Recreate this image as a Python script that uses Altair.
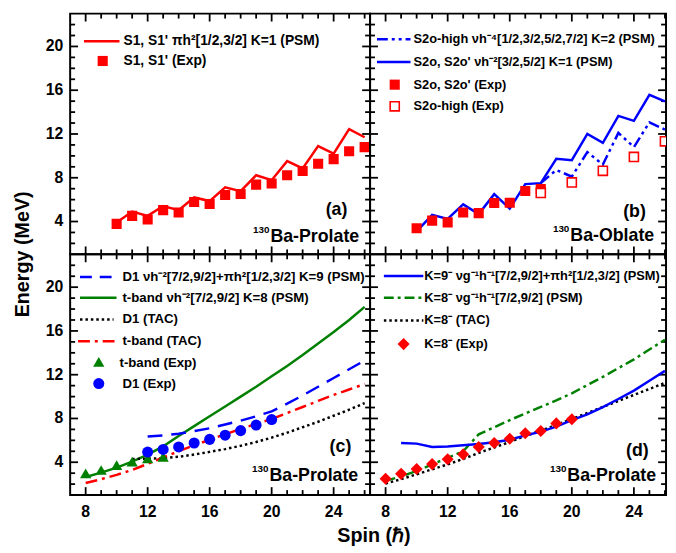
import altair as alt
import pandas as pd

# ---------------- data ----------------
# (a) 130Ba prolate, S1/S1'
spin_a = list(range(10, 27))
a_psm = [3.9, 4.91, 4.52, 5.42, 5.04, 6.2, 5.87, 7.13, 6.77, 8.23, 7.78, 9.52, 8.86, 10.89, 10.2, 12.44, 11.7]
a_exp = [3.78, 4.52, 4.19, 5.04, 4.82, 5.78, 5.6, 6.43, 6.52, 7.37, 7.48, 8.23, 8.62, 9.28, 9.70, 10.42, 10.80]

# (b) 130Ba oblate
spin_b = list(range(10, 27))
b_psm = [3.1, 4.61, 4.23, 5.57, 4.68, 6.5, 5.18, 7.42, 7.51, 9.73, 9.61, 12.0, 11.19, 13.65, 13.2, 15.58, 14.99]
spin_b_high = list(range(18, 27))
b_high_psm = [7.51, 8.71, 8.1, 10.35, 9.2, 12.1, 10.8, 13.07, 12.4]
spin_b_exp = list(range(10, 19))
b_exp = [3.39, 4.08, 3.92, 4.82, 4.77, 5.69, 5.72, 6.79, 6.97]
spin_b_high_exp = [18, 20, 22, 24, 26]
b_high_exp = [6.61, 7.57, 8.63, 9.9, 11.33]

# (c) 130Ba prolate, D1 and t-band
spin_c_d1_psm = list(range(12, 27))
c_d1_psm = [6.35, 6.45, 6.6, 6.85, 7.1, 7.45, 7.8, 8.2, 8.65, 9.35, 10.1, 10.9, 11.7, 12.5, 13.3]
spin_c_t_psm = list(range(8, 27))
c_t_psm = [2.65, 3.05, 3.5, 4.05, 4.7, 5.45, 6.4, 7.3, 8.2, 9.1, 10.0, 10.9, 11.85, 12.8, 13.8, 14.85, 15.9, 17.0, 18.2]
spin_c_d1_tac = list(range(11, 27))
c_d1_tac = [4.3, 4.32, 4.38, 4.5, 4.7, 4.95, 5.2, 5.5, 5.85, 6.25, 6.7, 7.2, 7.7, 8.25, 8.8, 9.4]
spin_c_t_tac = list(range(8, 27))
c_t_tac = [2.1, 2.45, 2.85, 3.3, 3.85, 4.45, 5.0, 5.55, 6.05, 6.55, 7.05, 7.5, 7.95, 8.5, 9.05, 9.6, 10.15, 10.65, 11.15]
spin_c_t_exp = list(range(8, 14))
c_t_exp = [2.99, 3.29, 3.74, 4.06, 4.35, 4.5]
spin_c_d1_exp = list(range(12, 21))
c_d1_exp = [4.93, 5.17, 5.4, 5.76, 6.09, 6.47, 6.89, 7.4, 7.9]

# (d) 130Ba prolate, K=8- band
spin_d_k9_psm = list(range(9, 27))
d_k9_psm = [5.76, 5.7, 5.4, 5.43, 5.55, 5.67, 5.82, 6.06, 6.45, 6.8, 7.25, 7.84, 8.38, 9.04, 9.78, 10.55, 11.45, 12.35]
spin_d_k8_psm = list(range(8, 27))
d_k8_psm = [2.3, 2.7, 3.2, 3.8, 4.4, 5.0, 6.55, 7.2, 7.85, 8.45, 9.05, 9.65, 10.3, 11.05, 11.8, 12.6, 13.4, 14.3, 15.2]
spin_d_k8_tac = list(range(8, 27))
d_k8_tac = [2.05, 2.45, 2.9, 3.35, 3.8, 4.3, 4.85, 5.35, 5.85, 6.4, 6.9, 7.4, 7.95, 8.5, 9.05, 9.6, 10.15, 10.7, 11.25]
spin_d_exp = list(range(8, 21))
d_exp = [2.49, 2.94, 3.38, 3.83, 4.28, 4.72, 5.4, 5.76, 6.15, 6.65, 6.86, 7.55, 7.93]

# axis ticks
x_major = [8, 12, 16, 20, 24]
x_minor = [9, 10, 11, 13, 14, 15, 17, 18, 19, 21, 22, 23, 25, 26]
y_major = [4, 8, 12, 16, 20]
y_minor = [2, 3, 5, 6, 7, 9, 10, 11, 13, 14, 15, 17, 18, 19, 21, 22]
x_title = "Spin (ℏ)"
y_title = "Energy (MeV)"

# legend texts
leg_a = ["S1, S1' πh²[1/2,3/2] K=1 (PSM)", "S1, S1' (Exp)"]
leg_b = ["S2o-high νh⁻⁴[1/2,3/2,5/2,7/2] K=2 (PSM)", "S2o, S2o' νh⁻²[3/2,5/2] K=1 (PSM)",
         "S2o, S2o' (Exp)", "S2o-high (Exp)"]
leg_c = ["D1 νh⁻²[7/2,9/2]+πh²[1/2,3/2] K=9 (PSM)", "t-band νh⁻²[7/2,9/2] K=8 (PSM)",
         "D1 (TAC)", "t-band (TAC)", "t-band (Exp)", "D1 (Exp)"]
leg_d = ["K=9⁻ νg⁻¹h⁻¹[7/2,9/2]+πh²[1/2,3/2] (PSM)", "K=8⁻ νg⁻¹h⁻¹[7/2,9/2] (PSM)",
         "K=8⁻ (TAC)", "K=8⁻ (Exp)"]

# ---------------- styling ----------------
FONT = "Liberation Sans"
RED, BLUE, GREEN, BLACK = "#FF0000", "#0000FF", "#008000", "#000000"
W_L, W_R, H = 304, 300, 244
XD_L, XD_R, YD = [7, 26.35], [7, 26.07], [1, 23]
FS_A, FS_B, FS_C, FS_D = 14, 13, 13.4, 13
DUMMY = pd.DataFrame({"d": [0]})


def xsc(dom):
    return alt.Scale(domain=dom, nice=False, zero=False)


YSC = alt.Scale(domain=YD, nice=False, zero=False)


def line(spins, vals, color, dom, dash=None, width=2.5):
    kw = dict(color=color, strokeWidth=width, clip=True)
    if dash:
        kw["strokeDash"] = dash
    df = pd.DataFrame({"s": spins, "e": vals})
    return alt.Chart(df).mark_line(**kw).encode(
        x=alt.X("s:Q", scale=xsc(dom), axis=None),
        y=alt.Y("e:Q", scale=YSC, axis=None))


def pts(spins, vals, color, dom, shape, size, filled=True):
    if filled:
        mk = alt.Chart(pd.DataFrame({"s": spins, "e": vals})).mark_point(
            shape=shape, size=size, filled=True, color=color, opacity=1, clip=True)
    else:
        mk = alt.Chart(pd.DataFrame({"s": spins, "e": vals})).mark_point(
            shape=shape, size=size, filled=False, color=color, fill="white",
            fillOpacity=1, strokeWidth=1.6, opacity=1, clip=True)
    return mk.encode(x=alt.X("s:Q", scale=xsc(dom), axis=None),
                     y=alt.Y("e:Q", scale=YSC, axis=None))


def ticks(dom, W, xlab=False, ylab=False):
    layers = []
    tk = dict(color=BLACK, strokeWidth=1.8)
    xmaj = pd.DataFrame({"v": x_major})
    xmin = pd.DataFrame({"v": x_minor})
    ymaj = pd.DataFrame({"v": y_major})
    ymin = pd.DataFrame({"v": y_minor})
    for df, ln in ((xmaj, 8), (xmin, 5)):
        layers.append(alt.Chart(df).mark_rule(**tk).encode(
            x=alt.X("v:Q", scale=xsc(dom), axis=None), y=alt.value(H), y2=alt.value(H - ln)))
        layers.append(alt.Chart(df).mark_rule(**tk).encode(
            x=alt.X("v:Q", scale=xsc(dom), axis=None), y=alt.value(0), y2=alt.value(ln)))
    for df, ln in ((ymaj, 8), (ymin, 5)):
        layers.append(alt.Chart(df).mark_rule(**tk).encode(
            y=alt.Y("v:Q", scale=YSC, axis=None), x=alt.value(0), x2=alt.value(ln)))
        layers.append(alt.Chart(df).mark_rule(**tk).encode(
            y=alt.Y("v:Q", scale=YSC, axis=None), x=alt.value(W), x2=alt.value(W - ln)))
    lab = dict(font=FONT, fontSize=16, fontWeight="bold", color=BLACK, baseline="middle")
    if xlab:
        layers.append(alt.Chart(xmaj).mark_text(align="center", **lab).encode(
            x=alt.X("v:Q", scale=xsc(dom), axis=None), y=alt.value(H + 17),
            text=alt.Text("v:Q", format="d")))
    if ylab:
        layers.append(alt.Chart(ymaj).mark_text(align="right", **lab).encode(
            y=alt.Y("v:Q", scale=YSC, axis=None), x=alt.value(-7),
            text=alt.Text("v:Q", format="d")))
    return layers


def leg_line(x1, x2, y, color, dash=None, width=2.5):
    kw = dict(color=color, strokeWidth=width)
    if dash:
        kw["strokeDash"] = dash
    return alt.Chart(DUMMY).mark_rule(**kw).encode(
        x=alt.value(x1), x2=alt.value(x2), y=alt.value(y))


def leg_sym(x, y, color, shape, size, filled=True):
    if filled:
        mk = alt.Chart(DUMMY).mark_point(shape=shape, size=size, filled=True, color=color, opacity=1)
    else:
        mk = alt.Chart(DUMMY).mark_point(shape=shape, size=size, filled=False, color=color,
                                          fill="white", fillOpacity=1, strokeWidth=1.6, opacity=1)
    return mk.encode(x=alt.value(x), y=alt.value(y))


def txt(x, y, s, size, align="left", angle=0):
    return alt.Chart(DUMMY).mark_text(font=FONT, fontSize=size, fontWeight="bold", color=BLACK,
                                      align=align, baseline="middle", angle=angle).encode(
        x=alt.value(x), y=alt.value(y), text=alt.value(s))


def tag(label, nucleus, lx, ly, nx, ny):
    return [txt(lx, ly, label, 18, "center"),
            txt(nx - 1, ny - 7, "130", 10, "right"),
            txt(nx, ny, nucleus, 18)]


# ---------------- panel (a) ----------------
pa_layers = ticks(XD_L, W_L, xlab=False, ylab=True) + [
    txt(-48, H, y_title, 20, "center", 270),
    line(spin_a, a_psm, RED, XD_L),
    pts(spin_a, a_exp, RED, XD_L, "square", 105),
    leg_line(14, 50, 28, RED), txt(54, 28, leg_a[0], FS_A),
    leg_sym(33, 48, RED, "square", 105), txt(54, 48, leg_a[1], FS_A),
] + tag("(a)", "Ba-Prolate", 270, 199, 203, 226)
pa = alt.layer(*pa_layers).properties(width=W_L, height=H)

# ---------------- panel (b) ----------------
pb_layers = ticks(XD_R, W_R) + [
    line(spin_b_high, b_high_psm, BLUE, XD_R, dash=[11, 4, 3, 4, 3, 4]),
    line(spin_b, b_psm, BLUE, XD_R),
    pts(spin_b_exp, b_exp, RED, XD_R, "square", 105),
    pts(spin_b_high_exp, b_high_exp, RED, XD_R, "square", 85, filled=False),
    leg_line(7, 41, 26, BLUE, dash=[11, 4, 3, 4, 3, 4]), txt(44, 26, leg_b[0], FS_B),
    leg_line(7, 41, 49, BLUE), txt(44, 49, leg_b[1], FS_B),
    leg_sym(25, 72, RED, "square", 105), txt(44, 72, leg_b[2], FS_B),
    leg_sym(25, 94, RED, "square", 85, filled=False), txt(44, 94, leg_b[3], FS_B),
] + tag("(b)", "Ba-Oblate", 268, 201, 203, 225)
pb = alt.layer(*pb_layers).properties(width=W_R, height=H)

# ---------------- panel (c) ----------------
pc_layers = ticks(XD_L, W_L, xlab=True, ylab=True) + [
    txt(W_L + 4, H + 42, x_title, 20, "center"),
    line(spin_c_t_psm, c_t_psm, GREEN, XD_L),
    line(spin_c_d1_tac, c_d1_tac, BLACK, XD_L, dash=[2.5, 3]),
    line(spin_c_t_tac, c_t_tac, RED, XD_L, dash=[12, 5, 3, 5]),
    line(spin_c_d1_psm, c_d1_psm, BLUE, XD_L, dash=[15, 9]),
    pts(spin_c_t_exp, c_t_exp, GREEN, XD_L, "triangle-up", 130),
    pts(spin_c_d1_exp, c_d1_exp, BLUE, XD_L, "circle", 125),
    leg_line(10, 42, 23, BLUE, dash=[12, 8]), txt(53, 23, leg_c[0], FS_C),
    leg_line(10, 47, 44, GREEN), txt(53, 44, leg_c[1], FS_C),
    leg_line(10, 44, 66, BLACK, dash=[2.5, 3]), txt(53, 66, leg_c[2], FS_C),
    leg_line(8, 45, 88, RED, dash=[12, 5, 3, 5]), txt(53, 88, leg_c[3], FS_C),
    leg_sym(29, 109, GREEN, "triangle-up", 130), txt(50, 110, leg_c[4], FS_C),
    leg_sym(29, 131, BLUE, "circle", 125), txt(53, 131, leg_c[5], FS_C),
] + tag("(c)", "Ba-Prolate", 274, 195, 202, 225)
pc = alt.layer(*pc_layers).properties(width=W_L, height=H)

# ---------------- panel (d) ----------------
pd_layers = ticks(XD_R, W_R, xlab=True) + [
    line(spin_d_k8_psm, d_k8_psm, GREEN, XD_R, dash=[10, 4, 3, 4]),
    line(spin_d_k8_tac, d_k8_tac, BLACK, XD_R, dash=[2.5, 3]),
    line(spin_d_k9_psm, d_k9_psm, BLUE, XD_R),
    pts(spin_d_exp, d_exp, RED, XD_R, "diamond", 150),
    leg_line(14, 54, 22, BLUE), txt(55, 22, leg_d[0], FS_D),
    leg_line(14, 54, 44, GREEN, dash=[10, 4, 3, 4]), txt(55, 44, leg_d[1], FS_D),
    leg_line(14, 54, 67, BLACK, dash=[2.5, 3]), txt(55, 67, leg_d[2], FS_D),
    leg_sym(34, 91, RED, "diamond", 150), txt(55, 91, leg_d[3], FS_D),
] + tag("(d)", "Ba-Prolate", 271, 199, 200, 225)
pdd = alt.layer(*pd_layers).properties(width=W_R, height=H)

chart = alt.concat(pa, pb, pc, pdd, columns=2, spacing=0, bounds="flush").properties(
    padding={"left": 4, "top": 0, "right": 0, "bottom": 0}
).configure(font=FONT, background="white").configure_view(stroke=BLACK, strokeWidth=2)

chart.save("out.html", embed_options={"renderer": "svg", "actions": False})
